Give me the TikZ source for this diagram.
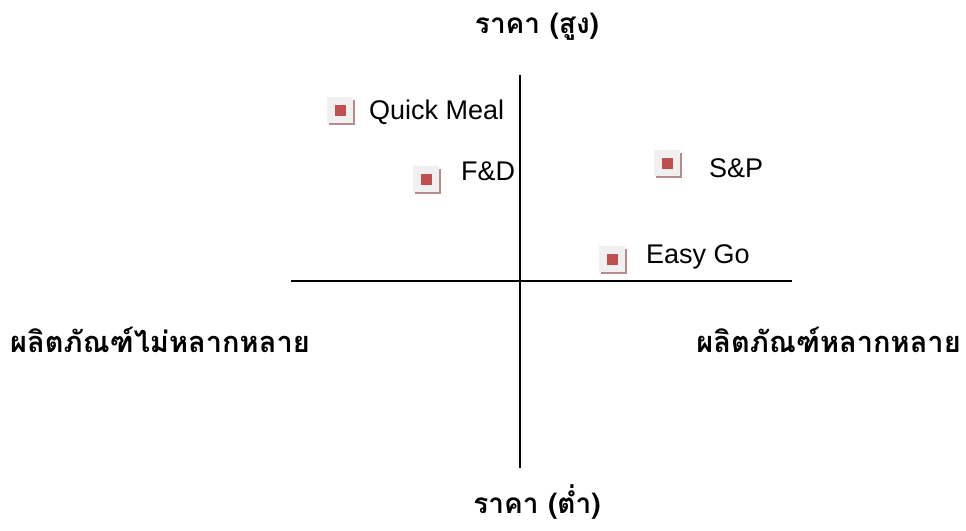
\documentclass[tikz,border=0pt]{standalone}
\usepackage{fontspec}
\setmainfont{Liberation Sans}
\newfontfamily\thaifont[Script=Thai]{Loma}
\definecolor{mkred}{HTML}{C0504D}
\definecolor{mkgray}{HTML}{F0F0F0}
\definecolor{mkshadow}{HTML}{B48C8C}
\begin{document}
\begin{tikzpicture}[x=1pt,y=-1pt,
  axis/.style={line width=1.5pt,black},
  thaititle/.style={font=\thaifont\bfseries\fontsize{28}{32}\selectfont,inner sep=0pt},
  sidetitle/.style={font=\thaifont\bfseries\fontsize{29}{33}\selectfont,inner sep=0pt},
  lbl/.style={font=\fontsize{27}{31}\selectfont,inner sep=0pt,anchor=base west},
  pic marker/.pic={
    \fill[mkshadow] (-11,11) rectangle (15,15);
    \fill[mkshadow] (11,-10) rectangle (15,15);
    \fill[mkgray] (-13,-13) rectangle (13,13);
    \fill[mkred] (-5.5,-5.5) rectangle (5.5,5.5);
  }]
\useasboundingbox (0,0) rectangle (966,530);
% axes
\coordinate (vtop) at (520,75);
\coordinate (vbot) at (520,468);
\coordinate (hl) at (291,281);
\coordinate (hr) at (792,281);
\draw[axis] (vtop) -- (vbot);
\draw[axis] (hl) -- (hr);
% titles
\node[thaititle,anchor=base] (top) at (537,33) {ราคา (สูง)};
\node[thaititle,anchor=base] (bot) at (537,513) {ราคา (ต่ำ)};
\node[sidetitle,anchor=base west] (left) at (10,352) {ผลิตภัณฑ์ไม่หลากหลาย};
\node[sidetitle,anchor=base east] (right) at (961,352) {ผลิตภัณฑ์หลากหลาย};
% markers
\pic at (340,110) {pic marker};
\pic at (426,179) {pic marker};
\pic at (667,163) {pic marker};
\pic at (612,259) {pic marker};
% labels
\node[lbl] (qm) at (369,119) {Quick Meal};
\node[lbl] (fd) at (461,180) {F\&D};
\node[lbl] (sp) at (709,177) {S\&P};
\node[lbl] (eg) at (646,263) {Easy Go};
\end{tikzpicture}
\end{document}
